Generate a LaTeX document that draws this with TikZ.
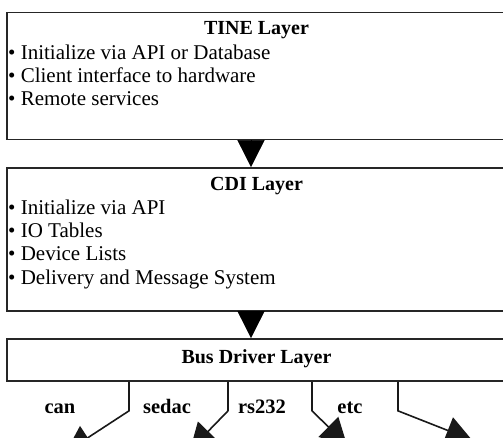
\documentclass[tikz,border=0pt]{standalone}
\usepackage{fontspec}
\setmainfont{Liberation Serif}
\usetikzlibrary{arrows.meta}

\tikzset{
  layerbox/.style={draw=black!85, line width=1.7pt, fill=white, rectangle,
    inner sep=0pt, minimum width=499pt},
  title/.style={font=\fontsize{20}{21}\selectfont\bfseries, inner sep=0pt, anchor=base},
  item/.style={font=\fontsize{21}{22}\selectfont, inner sep=0pt, anchor=base west},
  buslabel/.style={font=\fontsize{20.5}{21}\selectfont\bfseries, inner sep=0pt, anchor=base},
  layerflow/.style={line width=0.6pt, draw=black,
    -{Triangle[length=27pt,width=27pt]}},
  branch/.style={line width=1.6pt, draw=black!90,
    -{Triangle[length=26pt,width=28pt]}}
}

\begin{document}
\begin{tikzpicture}[x=1pt,y=-1pt]
  \useasboundingbox (0,0) rectangle (503,438);
  \fill[white] (0,0) rectangle (503,438);
  \clip (0,0) rectangle (503,438);

  % Layer boxes (they run past the right edge)
  \node[layerbox, minimum height=127pt] (tine) at (256.5,76) {};
  \node[layerbox, minimum height=143pt] (cdi) at (256.5,239.5) {};
  \node[layerbox, minimum height=42pt] (bus) at (256.5,360) {};

  % TINE layer
  \node[title] (tinetitle) at (256.5,35) {TINE Layer};
  \node[item] (t1) at (8,60) {• Initialize via API or Database};
  \node[item] (t2) at (8,83) {• Client interface to hardware};
  \node[item] (t3) at (8,106) {• Remote services};

  % CDI layer
  \node[title] (cdititle) at (256.5,191) {CDI Layer};
  \node[item] (c1) at (8,215) {• Initialize via API};
  \node[item] (c2) at (8,238) {• IO Tables};
  \node[item] (c3) at (8,261) {• Device Lists};
  \node[item] (c4) at (8,284) {• Delivery and Message System};

  % Bus driver layer
  \node[title] (bustitle) at (256.5,363) {Bus Driver Layer};

  % Flow between layers
  \draw[layerflow] ([xshift=-5.5pt]tine.south) -- ([xshift=-5.5pt]cdi.north);
  \draw[layerflow] ([xshift=-5.5pt]cdi.south) -- ([xshift=-5.5pt]bus.north);

  % Bus branches
  \coordinate (e1) at (66,452);
  \coordinate (e2) at (190,450);
  \coordinate (e3) at (347,445);
  \coordinate (e4) at (472,440);
  \draw[branch] ([xshift=-127.5pt]bus.south) -- ++(0,29) -- (e1);
  \draw[branch] ([xshift=-28.5pt]bus.south) -- ++(0,29) -- (e2);
  \draw[branch] ([xshift=55.5pt]bus.south) -- ++(0,29) -- (e3);
  \draw[branch] ([xshift=141.5pt]bus.south) -- ++(0,29) -- (e4);

  % Bus labels
  \node[buslabel] (lcan) at (60,413) {can};
  \node[buslabel] (lsedac) at (167,413) {sedac};
  \node[buslabel] (lrs) at (262,413) {rs232};
  \node[buslabel] (letc) at (350,413) {etc};
\end{tikzpicture}
\end{document}
